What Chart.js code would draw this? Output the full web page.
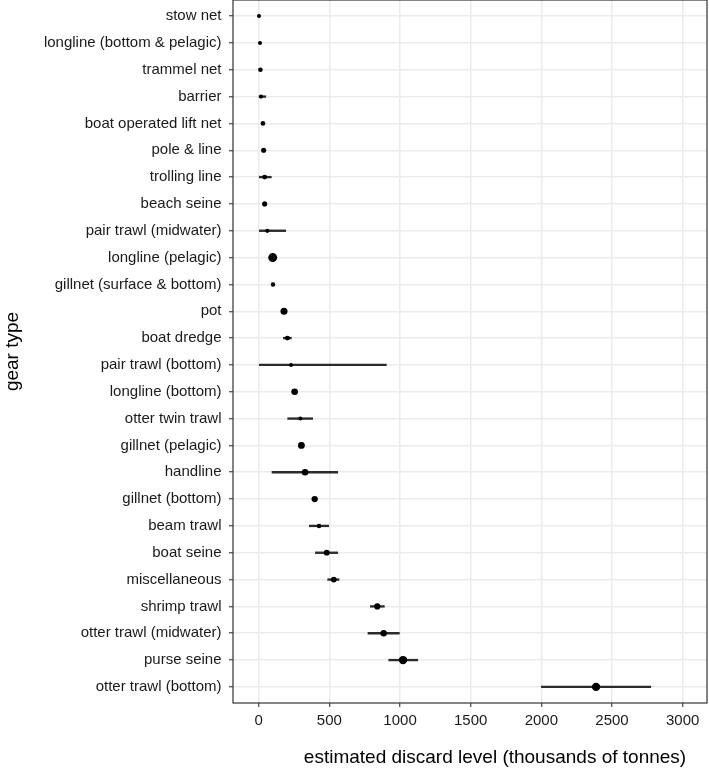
<!DOCTYPE html>
<html>
<head>
<meta charset="utf-8">
<script src="https://cdn.jsdelivr.net/npm/chart.js@4/dist/chart.umd.min.js"></script>
<style>
  html, body { margin: 0; padding: 0; background: #ffffff; }
  #wrap { width: 709px; height: 773px; position: relative; }
</style>
</head>
<body>
<div id="wrap"><canvas id="c" width="709" height="773"></canvas></div>
<script>
// ---- data (top to bottom) ----
const gearTypes = [
  "stow net", "longline (bottom & pelagic)", "trammel net", "barrier",
  "boat operated lift net", "pole & line", "trolling line", "beach seine",
  "pair trawl (midwater)", "longline (pelagic)", "gillnet (surface & bottom)",
  "pot", "boat dredge", "pair trawl (bottom)", "longline (bottom)",
  "otter twin trawl", "gillnet (pelagic)", "handline", "gillnet (bottom)",
  "beam trawl", "boat seine", "miscellaneous", "shrimp trawl",
  "otter trawl (midwater)", "purse seine", "otter trawl (bottom)"
];
const discardEstimate = [
  2, 9, 12, 16, 30, 35, 42, 42, 61, 99, 101, 179, 203, 229, 254,
  295, 302, 328, 396, 427, 481, 531, 839, 884, 1021, 2387
];
const lowerBound = [
  null, null, null, 3, null, null, 4, null, 4, null, null, null, 174, 4, null,
  205, null, 94, 378, 358, 401, 488, 790, 773, 920, 2000
];
const upperBound = [
  null, null, null, 50, null, null, 89, null, 191, null, null, null, 231, 903, null,
  382, null, 559, 414, 495, 559, 568, 889, 995, 1125, 2774
];
// relative weight of each estimate (drives marker size)
const estimateWeight = [
  0.8, 0.8, 2, 1.2, 2, 2.8, 2.4, 2.8, 1.2, 10, 1.6, 6.4, 2.4, 0.8, 5.6,
  0.8, 6, 5.6, 4.8, 1.6, 4, 4, 4.8, 5.2, 8.8, 8.8
];
const xTickValues = [0, 500, 1000, 1500, 2000, 2500, 3000];
const xTitle = "estimated discard level (thousands of tonnes)";
const yTitle = "gear type";

// ---- build datasets ----
const pointData = gearTypes.map((g, i) => ({ x: discardEstimate[i], y: i }));
const rangeData = gearTypes.map((g, i) =>
  lowerBound[i] === null ? { x: null, y: i } : { x: [lowerBound[i], upperBound[i]], y: i });

const FONT = "'Liberation Sans', Arial, Helvetica, sans-serif";
const radiusOf = i => 1.8 + 0.27 * estimateWeight[i];

const framePlugin = {
  id: 'frame',
  afterDatasetsDraw(chart) {
    const { ctx, chartArea: a } = chart;
    ctx.save();
    ctx.strokeStyle = '#333333';
    ctx.lineWidth = 1.2;
    ctx.strokeRect(a.left, a.top, a.right - a.left, a.bottom - a.top);
    ctx.restore();
  },
  afterDraw(chart) {
    const { ctx } = chart;
    ctx.save();
    ctx.fillStyle = '#000000';
    ctx.font = "19px " + FONT;
    ctx.textAlign = 'center';
    ctx.textBaseline = 'middle';
    ctx.fillText(xTitle, 495, 758);
    ctx.restore();
  }
};

new Chart(document.getElementById('c'), {
  type: 'scatter',
  data: {
    datasets: [
      {
        type: 'scatter',
        data: pointData,
        backgroundColor: '#000000',
        borderWidth: 0,
        pointRadius: ctx => radiusOf(ctx.dataIndex),
        pointHoverRadius: ctx => radiusOf(ctx.dataIndex)
      },
      {
        type: 'bar',
        indexAxis: 'y',
        data: rangeData,
        backgroundColor: '#2b2b2b',
        borderWidth: 0,
        barThickness: 1.7
      }
    ]
  },
  options: {
    responsive: false,
    animation: false,
    events: [],
    layout: { autoPadding: false, padding: { left: 0, right: 2, top: 0, bottom: 0 } },
    plugins: { legend: { display: false }, tooltip: { enabled: false } },
    scales: {
      x: {
        type: 'linear',
        position: 'bottom',
        min: -182,
        max: 3172,
        offset: false,
        afterBuildTicks: s => { s.ticks = xTickValues.map(v => ({ value: v })); },
        afterFit: s => { s.height = 70; s.paddingLeft = 0; s.paddingRight = 0; },
        grid: { color: '#ebebeb', lineWidth: 1.5, tickColor: '#333333', tickLength: 4, tickWidth: 1.1, offset: false },
        border: { display: false },
        ticks: {
          color: '#1a1a1a',
          font: { size: 15, family: FONT },
          padding: 5,
          maxRotation: 0,
          callback: v => String(v)
        }
      },
      y: {
        type: 'linear',
        position: 'left',
        reverse: true,
        min: -0.6,
        max: 25.6,
        offset: false,
        afterBuildTicks: s => { s.ticks = gearTypes.map((g, i) => ({ value: i })); },
        afterFit: s => { s.width = 233; s.paddingTop = 0; s.paddingBottom = 0; },
        grid: { color: '#ebebeb', lineWidth: 1.5, tickColor: '#333333', tickLength: 4, tickWidth: 1.1, offset: false },
        border: { display: false },
        ticks: {
          color: '#1a1a1a',
          font: { size: 15, family: FONT },
          padding: 7.5,
          autoSkip: false,
          callback: v => gearTypes[v]
        },
        title: {
          display: true,
          text: yTitle,
          color: '#000000',
          font: { size: 19, family: FONT },
          padding: { top: 1.6, bottom: 0 }
        }
      }
    }
  },
  plugins: [framePlugin]
});
</script>
</body>
</html>
